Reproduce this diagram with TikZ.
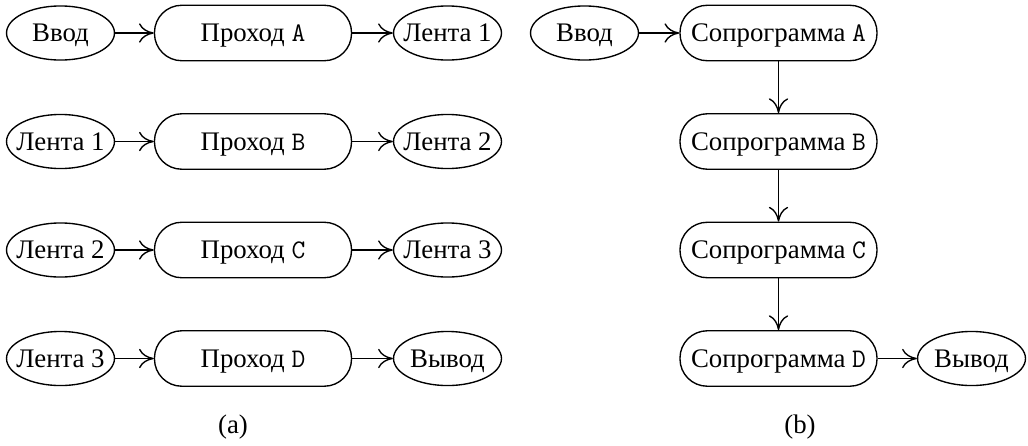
\documentclass[tikz,border=0pt]{standalone}
\usepackage{fontspec}
\setmainfont{Liberation Serif}
\usetikzlibrary{arrows.meta,shapes.geometric}
\begin{document}
\begin{tikzpicture}[x=0.44pt,y=-0.44pt,
  every node/.style={font=\fontsize{11.8}{14}\selectfont},
  term/.style={draw, ellipse, line width=0.6pt, minimum width=47.5pt, minimum height=23.8pt, inner sep=0pt, text height=7.6pt, text depth=0pt},
  pass/.style={draw, rounded corners=12pt, line width=0.6pt, minimum width=86.7pt, minimum height=24.4pt, inner sep=0pt, text height=7.6pt, text depth=0pt},
  arr/.style={line width=0.6pt, -{Computer Modern Rightarrow[length=6.5pt,width=8.5pt]}}
]
\useasboundingbox (0,0) rectangle (1028,445);
% (a)
\node[term] (in1) at (60.5,33) {\makebox[0pt]{Ввод}};
\node[pass] (pa) at (253,33) {Проход \texttt{A}};
\node[term] (t1) at (447.5,33) {\makebox[0pt]{Лента 1}};
\node[term] (t1b) at (60.5,141.5) {\makebox[0pt]{Лента 1}};
\node[pass] (pb) at (253,141.5) {Проход \texttt{B}};
\node[term] (t2) at (447.5,141.5) {\makebox[0pt]{Лента 2}};
\node[term] (t2b) at (60.5,250) {\makebox[0pt]{Лента 2}};
\node[pass] (pc) at (253,250) {Проход \texttt{C}};
\node[term] (t3) at (447.5,250) {\makebox[0pt]{Лента 3}};
\node[term] (t3b) at (60.5,358.5) {\makebox[0pt]{Лента 3}};
\node[pass] (pd) at (253,358.5) {Проход \texttt{D}};
\node[term] (out1) at (447.5,358.5) {\makebox[0pt]{Вывод}};
\draw[arr] (in1) -- (pa);
\draw[arr] (pa) -- (t1);
\draw[arr] (t1b) -- (pb);
\draw[arr] (pb) -- (t2);
\draw[arr] (t2b) -- (pc);
\draw[arr] (pc) -- (t3);
\draw[arr] (t3b) -- (pd);
\draw[arr] (pd) -- (out1);
\node (la) at (233,427) {(a)};
% (b)
\node[term] (in2) at (584.5,33) {\makebox[0pt]{Ввод}};
\node[pass] (ca) at (778.5,33) {Сопрограмма \texttt{A}};
\node[pass] (cb) at (778.5,141.5) {Сопрограмма \texttt{B}};
\node[pass] (cc) at (778.5,250) {Сопрограмма \texttt{C}};
\node[pass] (cd) at (778.5,358.5) {Сопрограмма \texttt{D}};
\node[term] (out2) at (971.5,358.5) {\makebox[0pt]{Вывод}};
\draw[arr] (in2) -- (ca);
\draw[arr] (ca) -- (cb);
\draw[arr] (cb) -- (cc);
\draw[arr] (cc) -- (cd);
\draw[arr] (cd) -- (out2);
\node (lb) at (800,427) {(b)};
\end{tikzpicture}
\end{document}
